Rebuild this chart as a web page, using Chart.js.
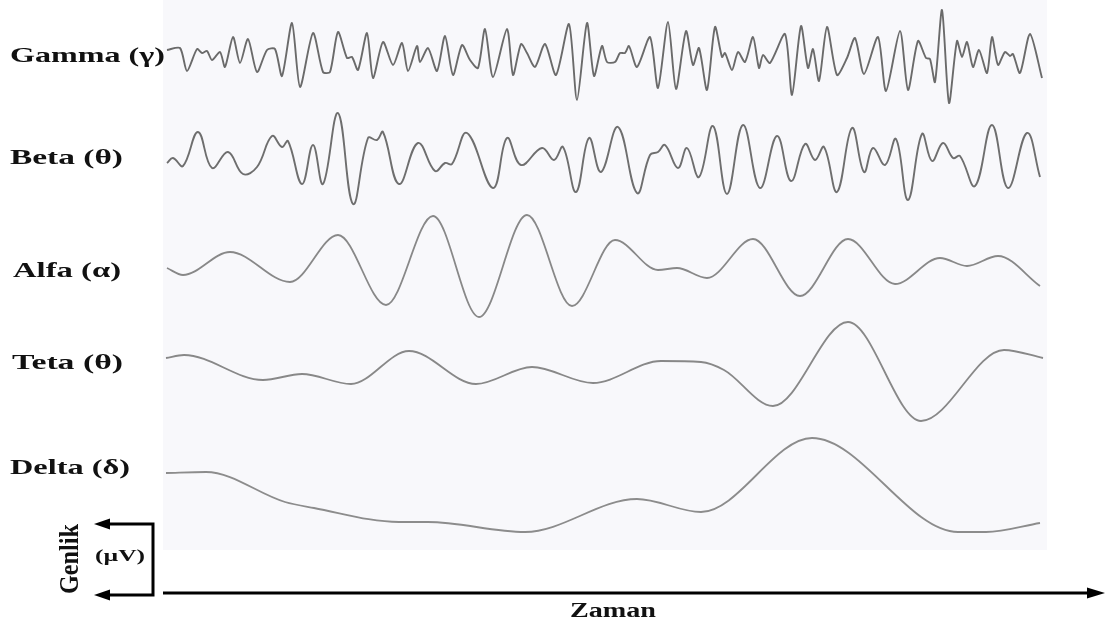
<!DOCTYPE html>
<html>
<head>
<meta charset="utf-8">
<script src="https://cdn.jsdelivr.net/npm/chart.js@4.4.1/dist/chart.umd.min.js"></script>
<style>
  html, body { margin: 0; padding: 0; background: #fff; }
  #wrap { width: 1106px; height: 625px; }
</style>
</head>
<body>
<div id="wrap"><canvas id="eeg" width="1106" height="625"></canvas></div>
<script>
// BAND NAMES (top to bottom)
const bands = ['Gamma (γ)', 'Beta (θ)', 'Alfa (α)', 'Teta (θ)', 'Delta (δ)'];

// SAMPLES: time and amplitude (µV, around each trace's own zero) at the peaks / troughs
const gammaTime = [2, 15, 22, 32, 37, 42, 47, 55, 60, 68, 75, 83, 92, 102, 110, 117, 127, 135, 148, 158, 165, 173, 182, 187, 193, 202, 208, 218, 228, 237, 243, 252, 255, 263, 272, 280, 288,
  297, 305, 313, 320, 328, 342, 348, 356, 362, 370, 380, 391, 404, 412, 422, 429, 437, 442, 450, 455, 460, 464, 472, 485, 493, 503, 511, 521, 528, 534, 542, 550, 557, 560, 567, 573, 580,
  588, 594, 598, 605, 620, 627, 636, 643, 648, 654, 662, 672, 682, 690, 699, 713, 721, 735, 743, 753, 761, 765, 770, 777, 784, 792, 797, 802, 808, 814, 822, 827, 833, 840, 845, 848, 855, 865, 877];
const gammaAmp = [7, 9, -14, 8, 4, 6, -3, 5, -10, 20, -6, 18, -15, 7, 8, -19, 34, -30, 24, -15, -15, 25, -1, 0, -13, 24, -21, 15, -8, 14, -14, 11, -5, 9, -14, 21, -18,
  12, -3, -11, 28, -20, 28, -18, 13, 4, -10, 13, -18, 33, -43, 34, -19, 11, -5, -5, 4, 4, 11, -10, 20, -31, 35, -32, 26, -8, 9, -33, 30, 0, 4, -13, 5, -5,
  20, -11, 2, -6, 23, -38, 31, -11, 8, -24, 30, -18, -1, 19, -17, 20, -34, 26, -33, 16, -1, -2, -25, 47, -46, 16, 0, 15, -10, 7, -16, 20, -8, 5, 1, 3, -16, 23, -21];

const betaTime = [2, 8, 18, 33, 47, 63, 78, 92, 107, 117, 123, 137, 148, 158, 173, 188, 203, 212, 218, 234, 253, 270, 280, 287,
  302, 328, 342, 356, 377, 389, 398, 411, 424, 436, 453, 472, 485, 493, 500, 513, 522, 534, 548, 562, 578,
  595, 612, 626, 640, 650, 659, 672, 687, 699, 708, 720, 731, 743, 757, 767, 778, 788, 795, 810, 827, 843, 862, 875];
const betaAmp = [-3, 2, -6, 28, -8, 8, -14, -7, 24, 13, 19, -24, 15, -24, 47, -44, 22, 20, 28, -24, 17, -11, -3, -4,
  27, -28, 22, -5, 12, 0, 13, -32, 22, -12, 33, -33, 5, 8, 15, -8, 12, -17, 34, -34, 35,
  -28, 24, -21, 16, 0, 13, -32, 32, -12, 12, -5, 21, -40, 26, -1, 17, 2, 4, -26, 35, -28, 27, -17];

const alfaTime = [2, 18, 65, 125, 173, 221, 268, 314, 362, 407, 450, 493, 512, 542, 588, 635, 683, 730, 775, 802, 833, 875];
const alfaAmp = [-3, -10, 13, -17, 30, -40, 49, -52, 50, -41, 25, -5, -3, -13, 26, -31, 26, -19, 7, -1, 9, -21];

const tetaTime = [1, 19, 98, 137, 186, 244, 311, 367, 428, 496, 536, 559, 608, 683, 756, 839, 878];
const tetaAmp = [12, 15, -10, -4, -14, 19, -14, 3, -13, 9, 8, 0, -36, 48, -51, 20, 12];

const deltaTime = [1, 41, 120, 149, 234, 263, 360, 472, 536, 647, 793, 821, 875];
const deltaAmp = [17, 18, -12, -18, -32, -32, -42, -9, -22, 52, -42, -42, -33];

// LAYOUT / STYLE
const W = 1106, H = 625;
const area = { left: 165, right: 1045, top: 0, bottom: 550 };
const traceZero = [57, 160, 265, 370, 490];          // pixel row of each trace's zero line
const traceColor = ['#6a6a6a', '#6e6e6e', '#888888', '#888888', '#8c8c8c'];
const traceTension = [0.25, 0.4, null, null, null];  // null = monotone curve
const labelBox = [
  { x: 10, y: 62, w: 155 },
  { x: 10, y: 164, w: 113 },
  { x: 13, y: 277, w: 108 },
  { x: 12, y: 369, w: 111 },
  { x: 10, y: 474, w: 120 }
];
const serif = "'Liberation Serif', 'Times New Roman', serif";

const series = [
  [gammaTime, gammaAmp],
  [betaTime, betaAmp],
  [alfaTime, alfaAmp],
  [tetaTime, tetaAmp],
  [deltaTime, deltaAmp]
];

const span = area.bottom - area.top;
const datasets = series.map(([t, a], i) => {
  const ds = {
    label: bands[i],
    data: t.map((x, k) => ({ x: x, y: (area.bottom - traceZero[i]) + a[k] })),
    borderColor: traceColor[i],
    borderWidth: i < 2 ? 1.9 : 1.8,
    pointRadius: 0,
    fill: false
  };
  if (traceTension[i] === null) ds.cubicInterpolationMode = 'monotone';
  else ds.tension = traceTension[i];
  return ds;
});

// stretched bold serif text (the reference is widened horizontally)
function wideText(ctx, txt, x, y, width, size) {
  ctx.font = 'bold ' + size + 'px ' + serif;
  const w = ctx.measureText(txt).width;
  ctx.save();
  ctx.translate(x, y);
  ctx.scale(width / w, 1);
  ctx.fillText(txt, 0, 0);
  ctx.restore();
}

function arrowHead(ctx, tipX, tipY, dir, len, half) {
  ctx.beginPath();
  ctx.moveTo(tipX, tipY);
  ctx.lineTo(tipX - dir * len, tipY - half);
  ctx.lineTo(tipX - dir * len, tipY + half);
  ctx.closePath();
  ctx.fill();
}

const decor = {
  id: 'decor',
  beforeDatasetsDraw(chart) {
    const ctx = chart.ctx;
    ctx.save();
    ctx.fillStyle = '#f8f8fb';
    ctx.fillRect(area.left - 2, 0, area.right - area.left + 4, area.bottom);
    ctx.restore();
  },
  afterDraw(chart) {
    const ctx = chart.ctx;
    ctx.save();
    ctx.fillStyle = '#111';
    ctx.textBaseline = 'alphabetic';
    ctx.textAlign = 'left';
    bands.forEach((b, i) => {
      const L = labelBox[i];
      wideText(ctx, b, L.x, L.y, L.w, 22);
    });

    // time axis
    ctx.strokeStyle = '#000';
    ctx.fillStyle = '#000';
    ctx.lineWidth = 3;
    ctx.beginPath();
    ctx.moveTo(163, 593);
    ctx.lineTo(1092, 593);
    ctx.stroke();
    arrowHead(ctx, 1105, 593, 1, 18, 5.5);

    // amplitude bracket
    ctx.beginPath();
    ctx.moveTo(104, 524);
    ctx.lineTo(153, 524);
    ctx.lineTo(153, 595);
    ctx.lineTo(104, 595);
    ctx.stroke();
    arrowHead(ctx, 94, 524, -1, 16, 5.5);
    arrowHead(ctx, 94, 595, -1, 16, 5.5);

    ctx.fillStyle = '#111';
    wideText(ctx, 'Zaman', 570, 617, 86, 20);
    wideText(ctx, '(µV)', 95, 561, 50, 17);

    // rotated axis name
    ctx.save();
    ctx.translate(78, 594);
    ctx.rotate(-Math.PI / 2);
    ctx.font = 'bold 27px ' + serif;
    const gw = ctx.measureText('Genlik').width;
    ctx.scale(70 / gw, 1);
    ctx.fillText('Genlik', 0, 0);
    ctx.restore();

    ctx.restore();
  }
};

new Chart(document.getElementById('eeg'), {
  type: 'line',
  data: { datasets: datasets },
  options: {
    responsive: false,
    animation: false,
    layout: { padding: { left: area.left, right: W - area.right, top: area.top, bottom: H - area.bottom } },
    plugins: { legend: { display: false }, tooltip: { enabled: false } },
    scales: {
      x: { type: 'linear', display: false, min: 0, max: area.right - area.left },
      y: { type: 'linear', display: false, min: 0, max: span }
    }
  },
  plugins: [decor]
});
</script>
</body>
</html>
